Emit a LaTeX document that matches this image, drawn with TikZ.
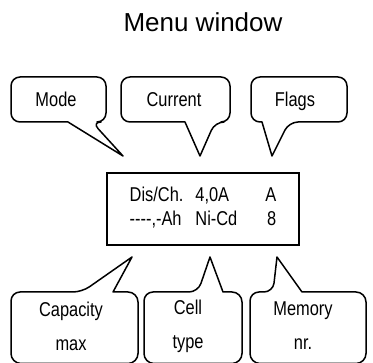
\documentclass[tikz,border=0pt]{standalone}
\usepackage{fontspec}
\setmainfont{Liberation Sans}
\newfontfamily\narrowfont{Liberation Sans}[FakeStretch=0.82]
\tikzset{
  bubble/.style={line width=1.5pt, line join=round, rounded corners=9pt},
  txt/.style={font=\narrowfont\fontsize{20}{34}\selectfont, align=center, inner sep=0pt},
}

\begin{document}
\begin{tikzpicture}[x=1pt, y=-1pt]
\useasboundingbox (0,0) rectangle (373,363);
\node[font=\fontsize{26}{30}\selectfont, anchor=base] (title) at (203,31.5) {Menu window};
% display
\node[draw, line width=1.5pt, minimum width=192pt, minimum height=72pt, inner sep=0pt,
  font=\narrowfont\fontsize{20}{24}\selectfont] (lcd) at (203,209)
  {\begin{tabular}{@{}l@{\hspace{12pt}}l@{\hspace{28pt}}r@{}}
   Dis/Ch. & 4,0A & A\\
   {-}{-}{-}{-},{-}Ah & Ni{-}Cd & 8
   \end{tabular}};
% upper bubbles
\coordinate (modetip) at (123,156);
\coordinate (curtip) at (200,156);
\coordinate (flagtip) at (272,156);
\draw[bubble] (11,100) -- (11,77) -- (106,77) -- (106,122) -- (92,122) [sharp corners] -- (modetip) -- (68,122) [rounded corners=9pt] -- (11,122) -- cycle;
\draw[bubble] (121,100) -- (121,77) -- (230,77) -- (230,122) -- (215,122) [sharp corners] -- (curtip) -- (185,122) [rounded corners=9pt] -- (121,122) -- cycle;
\draw[bubble] (251,100) -- (251,77) -- (347,77) -- (347,122) -- (289,122) [sharp corners] -- (flagtip) -- (262,122) [rounded corners=9pt] -- (251,122) -- cycle;
\node[txt, anchor=base] (mode) at (56,107) {Mode};
\node[txt, anchor=base] (cur) at (174,107) {Current};
\node[txt, anchor=base] (flags) at (295,107) {Flags};
% lower bubbles
\coordinate (captip) at (132,257);
\coordinate (celltip) at (210,257);
\coordinate (memtip) at (277,257);
\draw[bubble] (11,330) -- (11,292) -- (82,292) [sharp corners] -- (captip) -- (113,292) [rounded corners=10pt] -- (138,292) -- (138,363.5) -- (11,363.5) -- cycle;
\draw[bubble] (144,330) -- (144,292) -- (198,292) [sharp corners] -- (celltip) -- (223,292) [rounded corners=10pt] -- (242,292) -- (242,363.5) -- (144,363.5) -- cycle;
\draw[bubble] (250,330) -- (250,292) -- (273,292) [sharp corners] -- (memtip) -- (302,292) [rounded corners=10pt] -- (366,292) -- (366,363.5) -- (250,363.5) -- cycle;
\node[txt] (cap) at (71,326) {Capacity\\max};
\node[txt] (cell) at (188,326) {Cell\\type};
\node[txt] (mem) at (303,326) {Memory\\nr.};
\end{tikzpicture}
\end{document}
